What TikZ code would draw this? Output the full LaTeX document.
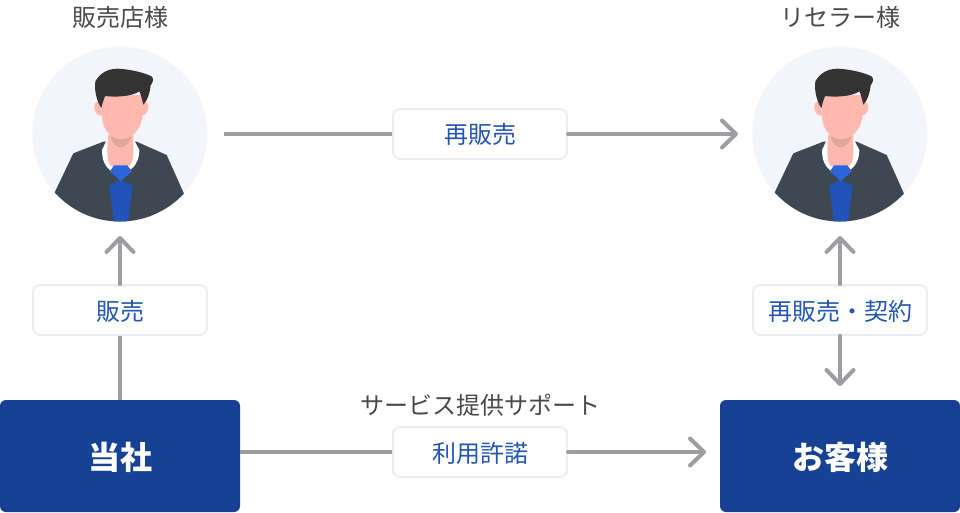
\documentclass[tikz,border=0pt]{standalone}
\usepackage{fontspec}
\setmainfont{Noto Sans CJK JP}
\usetikzlibrary{arrows.meta}
\definecolor{navy}{HTML}{164194}
\definecolor{linkblue}{HTML}{2457B3}
\definecolor{edgegray}{HTML}{EBECF2}
\definecolor{arrowgray}{HTML}{9D9EA1}
\definecolor{capt}{HTML}{484A4A}
\definecolor{disc}{HTML}{F4F5FA}
\definecolor{jacket}{HTML}{3D4852}
\definecolor{hair}{HTML}{333333}
\definecolor{skin}{HTML}{FFB8AD}
\definecolor{neck}{HTML}{E0A69B}
\definecolor{tielight}{HTML}{2B66DC}
\definecolor{tiedark}{HTML}{2153B8}
\newcommand{\lowertext}[1]{\raisebox{-1pt}[\height][\depth]{#1}}
\tikzset{
  x=1pt,y=-1pt,
  navybox/.style={fill=navy,rounded corners=6pt,minimum width=240pt,minimum height=112pt,inner sep=0pt,text=white,font=\fontsize{32}{36}\selectfont\bfseries},
  tagbox/.style={draw=edgegray,line width=2pt,fill=white,rounded corners=7pt,minimum width=174pt,minimum height=50pt,inner sep=0pt,text=linkblue,font=\fontsize{24}{28}\selectfont},
  caption/.style={text=capt,inner sep=0pt,font=\fontsize{24}{28}\selectfont},
  flow/.style={draw=arrowgray,line width=4pt},
  flowtip/.style={flow,line cap=round,-{Straight Barb[length=14pt,width=27pt,line width=4pt,round]}},
  person/.pic={
    \begin{scope}[x=.33333pt,y=-.33333pt,shift={(-300,-282)}]
      \begin{scope}
        \clip (299.5,282) circle (262.5);
        \fill[disc] (299.5,282) circle (262.5);
        \fill[jacket] (98,470) -- (160,340) -- (250,305) -- (350,305) -- (440,345) -- (496,470) -- (505,560) -- (92,560) -- cycle;
        \fill[white] (246,330) -- (262,296) -- (340,296) -- (358,330) .. controls (358,360) and (345,380) .. (328,392) -- (272,392) .. controls (255,380) and (246,360) .. (246,330) -- cycle;
        \fill[skin] (264,285) -- (340,285) -- (340,340) .. controls (340,358) and (335,370) .. (328,378) -- (272,378) .. controls (266,370) and (262,355) .. (262,335) -- cycle;
        \fill[neck] (272,290) -- (334,290) .. controls (330,308) and (316,322) .. (302,322) .. controls (288,322) and (276,308) .. (272,290) -- cycle;
        \fill[tiedark] (300,420) -- (268,436) -- (282,550) -- (324,550) -- (338,436) -- cycle;
        \fill[tielight] (282,376) -- (322,376) -- (336,394) -- (302,424) -- (270,394) -- cycle;
      \end{scope}
      \fill[skin] (240,186) .. controls (226,180) and (218,195) .. (225,212) .. controls (229,224) and (238,228) .. (248,228) -- cycle;
      \fill[skin] (366,186) .. controls (380,180) and (390,195) .. (383,212) .. controls (379,224) and (370,228) .. (360,228) -- cycle;
      \fill[skin] (244,165) -- (368,165) -- (366,235) .. controls (362,272) and (330,298) .. (304,298) .. controls (276,298) and (250,272) .. (246,235) -- cycle;
      \fill[hair] (226,124) .. controls (240,100) and (262,86) .. (294,86) .. controls (330,88) and (375,98) .. (396,110) .. controls (402,118) and (398,128) .. (392,136) .. controls (390,155) and (384,180) .. (370,194) .. controls (366,180) and (364,165) .. (358,154) .. controls (335,170) and (285,172) .. (256,168) .. controls (250,178) and (248,190) .. (244,204) .. controls (234,190) and (222,160) .. (226,124) -- cycle;
    \end{scope}
  }
}
\begin{document}
\begin{tikzpicture}
\useasboundingbox (0,0) rectangle (960,512);
\pic at (120,134) {person};
\pic at (840,134) {person};
\node[caption] (seller) at (120,17) {販売店様};
\node[caption] (reseller) at (840,17) {リセラー様};
\node[caption] (support) at (480,405) {サービス提供サポート};
\node[navybox] (company) at (120,456) {\lowertext{当社}};
\node[navybox] (customer) at (840,456) {\lowertext{お客様}};
\node[tagbox] (resale) at (480,134) {再販売};
\node[tagbox] (sale) at (120,310) {\lowertext{販売}};
\node[tagbox] (contract) at (840,310) {\lowertext{再販売・契約}};
\node[tagbox] (license) at (480,452) {\lowertext{利用許諾}};
\coordinate (resaleStart) at (224,134);
\coordinate (resaleEnd) at (738,134);
\coordinate (saleEnd) at (120,236);
\coordinate (contractUp) at (840,236);
\coordinate (contractDown) at (840,386);
\coordinate (licenseStart) at (240,452);
\coordinate (licenseEnd) at (706,452);
\draw[flow] (resaleStart) -- (resale.west);
\draw[flowtip] (resale.east) -- (resaleEnd);
\draw[flow] (company.north) -- (sale.south);
\draw[flowtip] (sale.north) -- (saleEnd);
\draw[flowtip] (contract.north) -- (contractUp);
\draw[flowtip] (contract.south) -- (contractDown);
\draw[flow] (licenseStart) -- (license.west);
\draw[flowtip] (license.east) -- (licenseEnd);
\end{tikzpicture}
\end{document}
